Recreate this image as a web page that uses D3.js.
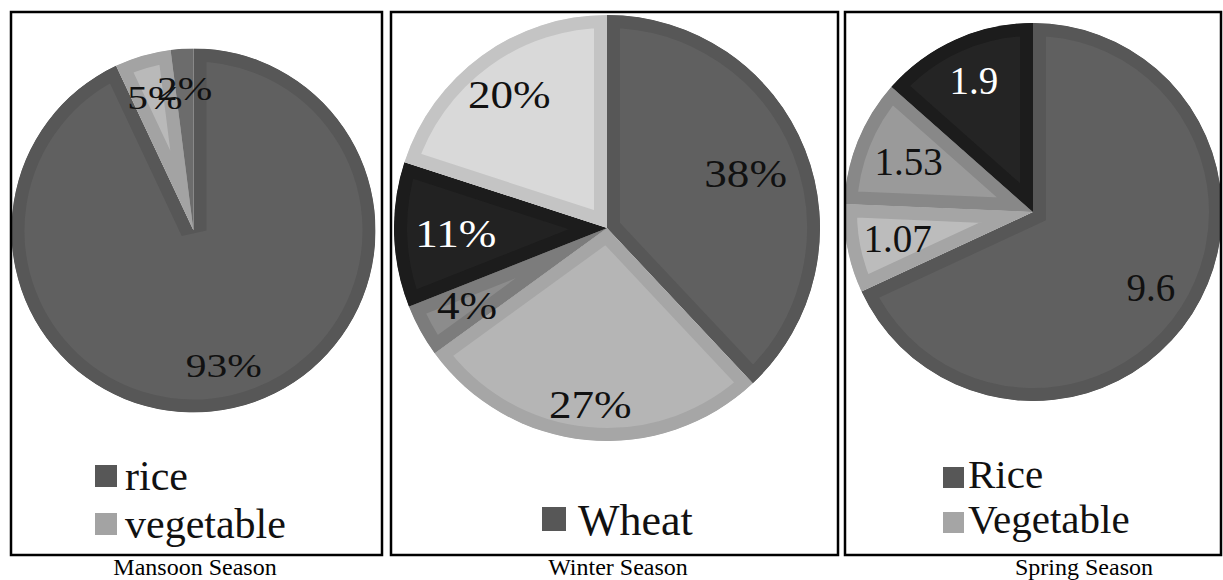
<!DOCTYPE html>
<html>
<head>
<meta charset="utf-8">
<script src="https://cdn.jsdelivr.net/npm/d3@7"></script>
<style>
  body { margin: 0; background: #fff; }
</style>
</head>
<body>
<svg id="chart" width="1223" height="580"></svg>
<script>
// data
const mansoonCrops = ["rice", "vegetable", "other"];
const mansoonValues = [93, 5, 2];
const mansoonLegend = ["rice", "vegetable"];

const winterCrops = ["Wheat", "crop 2", "crop 3", "crop 4", "crop 5"];
const winterValues = [38, 27, 4, 11, 20];
const winterLegend = ["Wheat"];

const springCrops = ["Rice", "Vegetable", "crop 3", "crop 4"];
const springValues = [9.6, 1.07, 1.53, 1.9];
const springLegend = ["Rice", "Vegetable"];

const captions = ["Mansoon Season", "Winter Season", "Spring Season"];

// fill (inner) and band (outer edge) greys per slice
const mansoonColors = [["#606060", "#575757"], ["#b9b9b9", "#a3a3a3"], ["#7a7a7a", "#6c6c6c"]];
const winterColors = [["#606060", "#575757"], ["#b5b5b5", "#a6a6a6"], ["#8c8c8c", "#7c7c7c"], ["#222222", "#1c1c1c"], ["#d9d9d9", "#c4c4c4"]];
const springColors = [["#606060", "#575757"], ["#bcbcbc", "#a5a5a5"], ["#9a9a9a", "#888888"], ["#242424", "#1c1c1c"]];

const FONT = "'Liberation Serif', 'Times New Roman', 'DejaVu Serif', serif";
const svg = d3.select("#chart");
const pctFmt = d3.format(".0%");

const panels = [
  {
    crops: mansoonCrops, values: mansoonValues, legend: mansoonLegend, colors: mansoonColors,
    box: [11, 12, 382, 555], cx: 193.5, cy: 230.5, r: 182,
    labelK: [0.76, 0.76, 0.78], fontSize: 34, sx: 1.22, percent: true,
    leg: { sq: 95, size: 22, tx: 125, y0: 490, step: 48, off: 25, fs: 42 },
    capX: 195
  },
  {
    crops: winterCrops, values: winterValues, legend: winterLegend, colors: winterColors,
    box: [391, 12, 838, 555], cx: 607, cy: 228, r: 213,
    labelK: [0.70, 0.83, 0.75, 0.71, 0.78], fontSize: 41, sx: 1.1, percent: true,
    leg: { sq: 542, size: 24, tx: 578, y0: 535, step: 46, off: 28, fs: 44 },
    capX: 618
  },
  {
    crops: springCrops, values: springValues, legend: springLegend, colors: springColors,
    box: [845, 12, 1221, 555], cx: 1033, cy: 212, r: 189,
    labelK: [0.74, 0.73, 0.71, 0.76], fontSize: 39, sx: 1.0, percent: false,
    leg: { sq: 943, size: 21, tx: 968, y0: 488, step: 45, off: 21, fs: 41 },
    capX: 1084
  }
];

const defs = svg.append("defs");
const band = 13;

panels.forEach((p, pi) => {
  const [x0, y0, x1, y1] = p.box;
  const data = p.crops.map((c, i) => ({ crop: c, value: p.values[i] }));
  const total = d3.sum(p.values);

  defs.append("clipPath").attr("id", `box${pi}`)
    .append("rect").attr("x", x0).attr("y", y0).attr("width", x1 - x0).attr("height", y1 - y0);

  const pie = d3.pie().sort(null).value((d) => d.value);
  const arcs = pie(data);
  const arc = d3.arc().innerRadius(0).outerRadius(p.r);

  const g = svg.append("g").attr("clip-path", `url(#box${pi})`)
    .append("g").attr("transform", `translate(${p.cx},${p.cy})`);

  // clip paths in the slice's own (translated) coordinates
  arcs.forEach((a, i) => {
    defs.append("clipPath").attr("id", `sl${pi}_${i}`)
      .append("path").attr("d", arc(a));
  });
  // each slice: fill + inner band made of a clipped wide stroke
  g.selectAll("path.slice").data(arcs).join("path")
    .attr("class", "slice")
    .attr("d", arc)
    .attr("fill", (d) => p.colors[d.index][0])
    .attr("stroke", (d) => p.colors[d.index][1])
    .attr("stroke-width", band * 2)
    .attr("stroke-linejoin", "miter")
    .attr("clip-path", (d) => `url(#sl${pi}_${d.index})`);

  // labels
  g.selectAll("text.lab").data(arcs).join("text")
    .attr("class", "lab")
    .attr("transform", (d) => {
      const m = (d.startAngle + d.endAngle) / 2;
      const rr = p.r * p.labelK[d.index];
      const x = rr * Math.sin(m), y = -rr * Math.cos(m);
      return `translate(${x},${y}) scale(${p.sx},1)`;
    })
    .attr("text-anchor", "middle")
    .attr("dy", "0.34em")
    .attr("font-family", FONT)
    .attr("font-size", p.fontSize)
    .attr("fill", (d) => d3.hsl(p.colors[d.index][0]).l < 0.2 ? "#fff" : "#111")
    .text((d) => p.percent ? pctFmt(d.value / total) : d.value);

  // legend
  const lg = svg.append("g");
  p.legend.forEach((name, i) => {
    const idx = p.crops.indexOf(name);
    const by = p.leg.y0 + i * p.leg.step;
    lg.append("rect")
      .attr("x", p.leg.sq).attr("y", by - p.leg.off)
      .attr("width", p.leg.size).attr("height", p.leg.size)
      .attr("fill", p.colors[idx][1]);
    lg.append("text")
      .attr("x", p.leg.tx).attr("y", by)
      .attr("font-family", FONT)
      .attr("font-size", p.leg.fs)
      .attr("fill", "#111")
      .text(name);
  });

  // frame
  svg.append("rect")
    .attr("x", x0).attr("y", y0).attr("width", x1 - x0).attr("height", y1 - y0)
    .attr("fill", "none").attr("stroke", "#000").attr("stroke-width", 2.5);

  // caption
  svg.append("text")
    .attr("x", p.capX).attr("y", 575)
    .attr("text-anchor", "middle")
    .attr("font-family", FONT)
    .attr("font-size", 24)
    .attr("fill", "#000")
    .text(captions[pi]);
});
</script>
</body>
</html>
